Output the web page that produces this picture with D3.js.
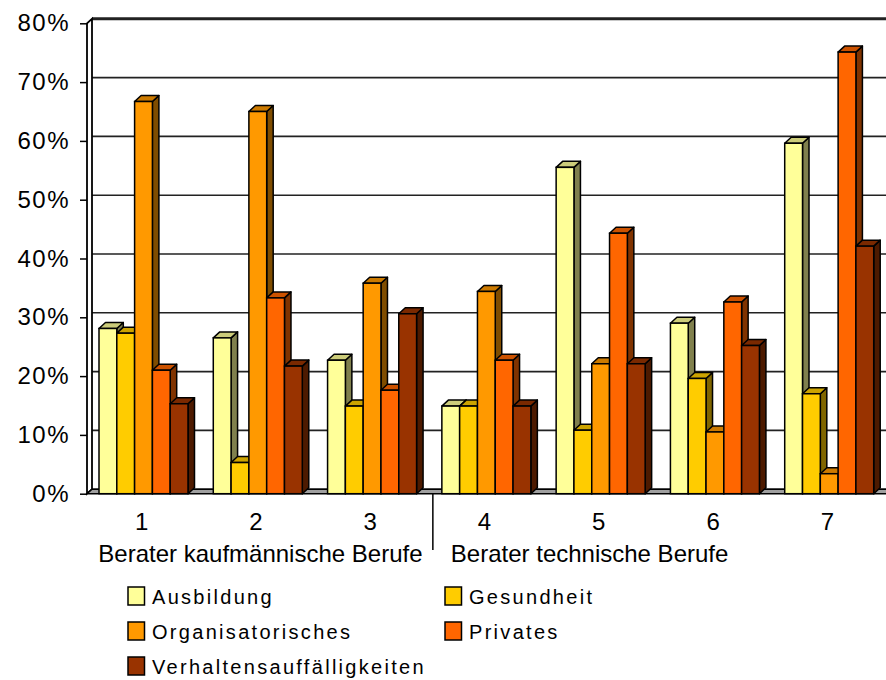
<!DOCTYPE html>
<html>
<head>
<meta charset="utf-8">
<script src="https://cdn.jsdelivr.net/npm/d3@7"></script>
<style>
  body { margin: 0; background: #fff; }
  text { font-family: "Liberation Sans", Arial, sans-serif; fill: #000; }
</style>
</head>
<body>
<div id="chart"></div>
<script>
// values, in percent
const categories = ['1', '2', '3', '4', '5', '6', '7'];
const groupNames = ['Berater kaufmännische Berufe', 'Berater technische Berufe'];
const groupSizes = [3, 4];
const seriesNames = ['Ausbildung', 'Gesundheit', 'Organisatorisches', 'Privates', 'Verhaltensauffälligkeiten'];
const ausbildung = [28.1, 26.5, 22.7, 14.9, 55.5, 29.0, 59.6];
const gesundheit = [27.3, 5.3, 14.9, 14.9, 10.8, 19.6, 17.0];
const organisatorisches = [66.7, 65.0, 35.8, 34.4, 22.1, 10.5, 3.4];
const privates = [21.0, 33.3, 17.6, 22.7, 44.3, 32.6, 75.1];
const verhalten = [15.3, 21.7, 30.6, 14.9, 22.1, 25.2, 42.1];
const yTicks = [0, 10, 20, 30, 40, 50, 60, 70, 80];

const seriesValues = [ausbildung, gesundheit, organisatorisches, privates, verhalten];
const colors = ['#ffff99', '#ffcc00', '#ff9900', '#ff6600', '#993300'];

let width = 886,
  height = 680,
  plotLeft = 87,
  plotRight = 887,
  plotTop = 23.3,
  plotBottom = 493.7,
  wallDx = 5, wallDy = -4.5,   // back wall offset
  barDx = 6.5, barDy = -6,     // bar depth
  barPad = 12;

let svg = d3.select('#chart')
  .append('svg')
    .attr('width', width)
    .attr('height', height);

let xScale = d3.scaleBand()
  .domain(categories)
  .range([plotLeft, plotRight]);

let barWidth = 17.8;
let xInner = d3.scaleBand()
  .domain(seriesNames)
  .range([0, barWidth * seriesNames.length]);

let yScale = d3.scaleLinear()
  .domain([0, 80])
  .range([plotBottom, plotTop]);

const shade = (c, k) => d3.interpolateRgb(c, '#000')(k);

// back wall gridlines
svg.append('g')
  .selectAll('line')
  .data(yTicks)
  .enter().append('line')
    .attr('x1', plotLeft + wallDx)
    .attr('x2', width)
    .attr('y1', d => yScale(d) + wallDy)
    .attr('y2', d => yScale(d) + wallDy)
    .attr('stroke', '#222')
    .attr('stroke-width', d => d === 80 ? 3 : 1.6);

// left wall
svg.append('polygon')
  .attr('points', [
    [plotLeft, plotBottom], [plotLeft, plotTop],
    [plotLeft + wallDx, plotTop + wallDy], [plotLeft + wallDx, plotBottom + wallDy]
  ].join(' '))
  .attr('fill', '#fff')
  .attr('stroke', '#000')
  .attr('stroke-width', 1.8);

// floor
svg.append('polygon')
  .attr('points', [
    [plotLeft, plotBottom], [width + 10, plotBottom],
    [width + 10, plotBottom + wallDy], [plotLeft + wallDx, plotBottom + wallDy]
  ].join(' '))
  .attr('fill', '#a0a0a0')
  .attr('stroke', '#000')
  .attr('stroke-width', 1.5);

// bars, category by category, left to right so each front hides the previous side
let bars = [];
categories.forEach((c, ci) => {
  seriesNames.forEach((s, si) => {
    bars.push({ cat: c, series: s, value: seriesValues[si][ci], color: colors[si] });
  });
});

let barG = svg.append('g')
  .selectAll('g')
  .data(bars)
  .enter().append('g');

function x0(d) { return xScale(d.cat) + barPad + xInner(d.series); }

barG.append('polygon')
  .attr('points', d => {
    let x = x0(d), yt = yScale(d.value), yb = yScale(0);
    return [[x + barWidth, yt], [x + barWidth + barDx, yt + barDy],
      [x + barWidth + barDx, yb + barDy], [x + barWidth, yb]].join(' ');
  })
  .attr('fill', d => shade(d.color, 0.5))
  .attr('stroke', '#000')
  .attr('stroke-width', 1.5)
  .attr('stroke-linejoin', 'round');

barG.append('polygon')
  .attr('points', d => {
    let x = x0(d), yt = yScale(d.value);
    return [[x, yt], [x + barDx, yt + barDy],
      [x + barWidth + barDx, yt + barDy], [x + barWidth, yt]].join(' ');
  })
  .attr('fill', d => shade(d.color, 0.2))
  .attr('stroke', '#000')
  .attr('stroke-width', 1.5)
  .attr('stroke-linejoin', 'round');

barG.append('rect')
  .attr('x', d => x0(d))
  .attr('y', d => yScale(d.value))
  .attr('width', barWidth)
  .attr('height', d => yScale(0) - yScale(d.value))
  .attr('fill', d => d.color)
  .attr('stroke', '#000')
  .attr('stroke-width', 1.5);

// y axis
let yAxis = svg.append('g')
  .attr('transform', 'translate(' + plotLeft + ',0)')
  .call(d3.axisLeft(yScale)
    .tickValues(yTicks)
    .tickSize(7)
    .tickPadding(10)
    .tickFormat(d => d + '%'));
yAxis.select('.domain').remove();
yAxis.selectAll('.tick line').attr('stroke', '#000').attr('stroke-width', 1.5);
yAxis.selectAll('.tick text')
  .attr('font-size', 24)
  .attr('letter-spacing', 1.5)
  .attr('font-family', '"Liberation Sans", Arial, sans-serif')
  .attr('fill', '#000');

// category labels
svg.append('g')
  .selectAll('text')
  .data(categories)
  .enter().append('text')
    .attr('x', d => xScale(d) + xScale.bandwidth() / 2 - 2.5)
    .attr('y', 530)
    .attr('text-anchor', 'middle')
    .attr('font-size', 24)
    .text(d => d);

// group labels and divider
let firstGroupEnd = xScale(categories[groupSizes[0]]);
svg.append('line')
  .attr('x1', firstGroupEnd + 3)
  .attr('x2', firstGroupEnd + 3)
  .attr('y1', plotBottom)
  .attr('y2', 550)
  .attr('stroke', '#000')
  .attr('stroke-width', 1.5);

svg.append('text')
  .attr('x', (plotLeft + firstGroupEnd) / 2 + 2)
  .attr('y', 562)
  .attr('text-anchor', 'middle')
  .attr('font-size', 24)
  .text(groupNames[0]);

svg.append('text')
  .attr('x', firstGroupEnd + 21)
  .attr('y', 562)
  .attr('text-anchor', 'start')
  .attr('font-size', 24)
  .text(groupNames[1]);

// legend
let legend = svg.append('g')
  .selectAll('g')
  .data(seriesNames)
  .enter().append('g')
    .attr('transform', (d, i) => 'translate(' + (i % 2 ? 445 : 128) + ',' + (587 + Math.floor(i / 2) * 35) + ')');

legend.append('rect')
  .attr('width', 16.5)
  .attr('height', 18)
  .attr('fill', (d, i) => colors[i])
  .attr('stroke', '#000')
  .attr('stroke-width', 1.5);

legend.append('text')
  .attr('x', 24)
  .attr('y', 17)
  .attr('font-size', 20)
  .attr('letter-spacing', 2.3)
  .text(d => d);
</script>
</body>
</html>
